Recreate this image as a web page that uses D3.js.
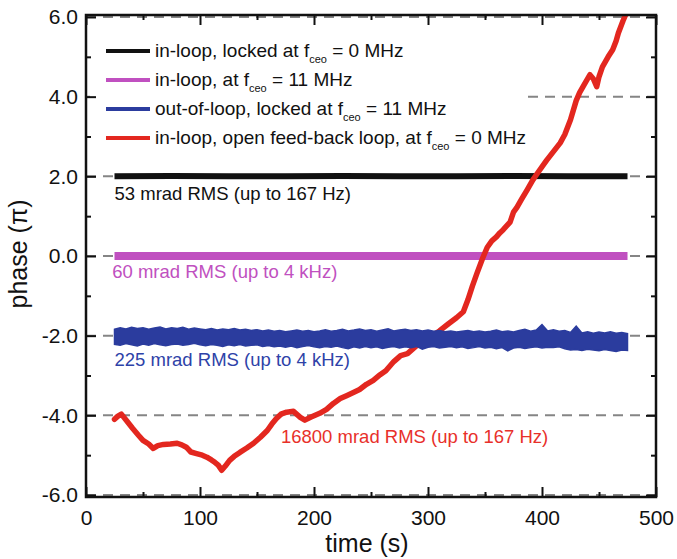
<!DOCTYPE html>
<html>
<head>
<meta charset="utf-8">
<script src="https://cdn.jsdelivr.net/npm/d3@7"></script>
<style>
  html, body { margin: 0; padding: 0; background: #fff; }
  svg { display: block; font-family: "Liberation Sans", Arial, Helvetica, sans-serif; }
</style>
</head>
<body>
<svg id="chart" width="677" height="559"></svg>
<script>
// ---------- data ----------
const xTicksMajor = [0, 100, 200, 300, 400, 500];
const xTicksMinor = [50, 150, 250, 350, 450];
const yTicksMajor = [-6, -4, -2, 0, 2, 4, 6];
const yTicksMinor = [-5, -3, -1, 1, 3, 5];
const gridValues = [-6, -4, -2, 0, 2, 4, 6];

// black: in-loop, locked at fceo = 0 MHz
const blackT = [25, 75, 125, 175, 225, 275, 325, 375, 425, 475];
const blackV = [2.00, 2.01, 2.00, 2.00, 2.01, 2.00, 2.00, 2.01, 2.00, 2.00];

// magenta: in-loop, at fceo = 11 MHz
const magentaT = [25, 125, 225, 325, 425, 475];
const magentaV = [0.00, 0.00, 0.00, 0.00, 0.00, 0.00];

// blue: out-of-loop, locked at fceo = 11 MHz (band envelope)
const blueT = [25,30,35,40,45,50,55,60,65,70,75,80,85,90,95,100,105,110,115,120,125,130,135,140,145,150,155,160,165,170,175,180,185,190,195,200,205,210,215,220,225,230,235,240,245,250,255,260,265,270,275,280,285,290,295,300,305,310,315,320,325,330,335,340,345,350,355,360,365,370,375,380,385,390,395,400,405,410,415,420,425,430,435,440,445,450,455,460,465,470,475];
const blueUpper = [-1.84,-1.80,-1.83,-1.79,-1.82,-1.80,-1.84,-1.81,-1.78,-1.83,-1.80,-1.82,-1.79,-1.84,-1.81,-1.83,-1.85,-1.82,-1.86,-1.83,-1.85,-1.82,-1.86,-1.84,-1.87,-1.85,-1.88,-1.86,-1.89,-1.87,-1.90,-1.88,-1.86,-1.89,-1.87,-1.90,-1.88,-1.85,-1.89,-1.87,-1.84,-1.88,-1.86,-1.83,-1.87,-1.85,-1.89,-1.86,-1.83,-1.88,-1.86,-1.84,-1.87,-1.85,-1.88,-1.86,-1.89,-1.87,-1.90,-1.88,-1.91,-1.89,-1.87,-1.90,-1.88,-1.91,-1.89,-1.86,-1.90,-1.88,-1.91,-1.87,-1.84,-1.89,-1.86,-1.72,-1.88,-1.85,-1.89,-1.87,-1.92,-1.76,-1.93,-1.90,-1.94,-1.91,-1.93,-1.90,-1.94,-1.92,-1.95];
const blueLower = [-2.22,-2.24,-2.20,-2.23,-2.26,-2.21,-2.24,-2.20,-2.23,-2.25,-2.22,-2.21,-2.24,-2.22,-2.19,-2.23,-2.25,-2.22,-2.24,-2.27,-2.23,-2.25,-2.22,-2.26,-2.24,-2.23,-2.27,-2.25,-2.28,-2.26,-2.29,-2.26,-2.30,-2.27,-2.25,-2.28,-2.30,-2.27,-2.29,-2.26,-2.30,-2.33,-2.28,-2.31,-2.27,-2.30,-2.28,-2.32,-2.29,-2.27,-2.31,-2.28,-2.30,-2.27,-2.34,-2.29,-2.27,-2.31,-2.29,-2.27,-2.30,-2.28,-2.32,-2.30,-2.27,-2.31,-2.29,-2.33,-2.30,-2.38,-2.31,-2.29,-2.32,-2.30,-2.28,-2.31,-2.29,-2.30,-2.28,-2.33,-2.36,-2.35,-2.37,-2.34,-2.36,-2.38,-2.35,-2.37,-2.40,-2.36,-2.37];

// red: in-loop, open feed-back loop, at fceo = 0 MHz
const redT = [25,28,31,36,41,46,50,55,59,63,68,74,80,84,88,92,97,102,106,110,113,116,119,122,126,130,135,141,147,153,159,163,167,171,176,182,188,192,197,205,211,217,223,229,235,240,246,252,258,263,270,276,282,290,296,303,310,318,325,331,335,339,343,348,352,356,360,363,366,372,375,378,382,387,392,398,404,410,416,420,425,430,433,436,442,445,448,450,453,458,462,465,467,471,474];
const redV = [-4.10,-4.02,-3.97,-4.15,-4.33,-4.50,-4.63,-4.72,-4.83,-4.76,-4.73,-4.72,-4.70,-4.74,-4.80,-4.92,-4.96,-5.00,-5.05,-5.12,-5.18,-5.25,-5.38,-5.28,-5.13,-5.03,-4.93,-4.82,-4.70,-4.55,-4.38,-4.22,-4.08,-3.97,-3.92,-3.90,-4.05,-4.12,-4.05,-3.95,-3.85,-3.70,-3.58,-3.50,-3.42,-3.35,-3.22,-3.12,-2.98,-2.88,-2.65,-2.50,-2.45,-2.25,-2.16,-2.02,-1.88,-1.70,-1.55,-1.40,-1.10,-0.75,-0.43,-0.05,0.22,0.38,0.48,0.58,0.66,0.85,1.10,1.22,1.42,1.66,1.91,2.16,2.40,2.62,2.84,3.05,3.42,3.90,4.10,4.25,4.55,4.45,4.25,4.50,4.75,5.00,5.18,5.40,5.60,5.90,6.10];

const legendItems = [
  { pre: "in-loop, locked at f", sub: "ceo", post: " = 0 MHz", color: "#111111" },
  { pre: "in-loop, at f", sub: "ceo", post: " = 11 MHz", color: "#c050c0" },
  { pre: "out-of-loop, locked at f", sub: "ceo", post: " = 11 MHz", color: "#2b3c9e" },
  { pre: "in-loop, open feed-back loop, at f", sub: "ceo", post: " = 0 MHz", color: "#e3271f" }
];

const annotations = [
  { text: "53 mrad RMS (up to 167 Hz)", t: 25, v: 2.0, color: "#111111", dy: 24 },
  { text: "60 mrad RMS (up to 4 kHz)", t: 23, v: 0.0, color: "#c050c0", dy: 22 },
  { text: "225 mrad RMS (up to 4 kHz)", t: 25, v: -2.0, color: "#2e42a8", dy: 30 },
  { text: "16800 mrad RMS (up to 167 Hz)", t: 171, v: -4.0, color: "#e8302a", dy: 28 }
];

// ---------- chart ----------
const svg = d3.select("#chart");
const x = d3.scaleLinear().domain([0, 500]).range([86, 656]);
const y = d3.scaleLinear().domain([-6.05, 6.05]).range([497, 15]);
const yFmt = d => d3.format(".1f")(d).replace("\u2212", "-");

// dashed grid lines
svg.append("g").selectAll("line").data(gridValues).join("line")
  .attr("x1", x(0)).attr("x2", x(500))
  .attr("y1", d => y(d)).attr("y2", d => y(d))
  .attr("stroke", "#858585").attr("stroke-width", 2)
  .attr("stroke-dasharray", "10,7");

// legend background + legend
const lg = svg.append("g");
lg.append("rect").attr("x", 90).attr("y", 26).attr("width", 438).attr("height", 126).attr("fill", "#fff");
legendItems.forEach((d, i) => {
  const yy = 51 + i * 29;
  lg.append("line").attr("x1", 106).attr("x2", 150).attr("y1", yy).attr("y2", yy)
    .attr("stroke", d.color).attr("stroke-width", 4);
  const t = lg.append("text").attr("x", 155).attr("y", yy + 6)
    .attr("font-size", 19).attr("fill", "#111");
  t.append("tspan").text(d.pre);
  t.append("tspan").attr("dy", 6).attr("font-size", 11).text(d.sub);
  t.append("tspan").attr("dy", -6).text(d.post);
});

// traces
const line = d3.line().x(d => x(d[0])).y(d => y(d[1]));
svg.append("path").datum(d3.zip(blackT, blackV)).attr("d", line)
  .attr("fill", "none").attr("stroke", "#111").attr("stroke-width", 6);
svg.append("path").datum(d3.zip(magentaT, magentaV)).attr("d", line)
  .attr("fill", "none").attr("stroke", "#c050c0").attr("stroke-width", 8);
svg.append("path").datum(d3.zip(redT, redV)).attr("d", line)
  .attr("fill", "none").attr("stroke", "#e3271f").attr("stroke-width", 5.5)
  .attr("stroke-linejoin", "round").attr("stroke-linecap", "round");
const area = d3.area().x(d => x(d[0])).y0(d => y(d[2])).y1(d => y(d[1]));
svg.append("path").datum(d3.zip(blueT, blueUpper, blueLower)).attr("d", area)
  .attr("fill", "#2b3c9e").attr("stroke", "#2b3c9e").attr("stroke-width", 1.5);

// white strip above frame (red trace leaves the plot at the top)
svg.append("rect").attr("x", 0).attr("y", 0).attr("width", 677).attr("height", 14).attr("fill", "#fff");

// annotations
annotations.forEach(a => {
  svg.append("text").attr("x", x(a.t)).attr("y", y(a.v) + a.dy)
    .attr("font-size", 18.5).attr("fill", a.color).text(a.text);
});

// axes
function styleAxis(g) {
  g.select(".domain").remove();
  g.selectAll(".tick line").attr("stroke", "#111").attr("stroke-width", 2);
  g.selectAll(".tick text").attr("fill", "#111").attr("font-family", "Liberation Sans, Arial, sans-serif");
}
svg.append("g").attr("transform", `translate(0,${y.range()[0]})`)
  .call(d3.axisBottom(x).tickValues(xTicksMajor).tickSize(-10).tickPadding(13).tickFormat(d3.format("d")))
  .call(styleAxis).selectAll("text").attr("font-size", 21);
svg.append("g").attr("transform", `translate(0,${y.range()[0]})`)
  .call(d3.axisBottom(x).tickValues(xTicksMinor).tickSize(-5).tickFormat(""))
  .call(styleAxis);
svg.append("g").attr("transform", `translate(0,${y.range()[1]})`)
  .call(d3.axisTop(x).tickValues(xTicksMajor).tickSize(-10).tickFormat(""))
  .call(styleAxis);
svg.append("g").attr("transform", `translate(0,${y.range()[1]})`)
  .call(d3.axisTop(x).tickValues(xTicksMinor).tickSize(-5).tickFormat(""))
  .call(styleAxis);
svg.append("g").attr("transform", `translate(${x.range()[0]},0)`)
  .call(d3.axisLeft(y).tickValues(yTicksMajor).tickSize(-10).tickPadding(8).tickFormat(yFmt))
  .call(styleAxis).selectAll("text").attr("font-size", 21);
svg.append("g").attr("transform", `translate(${x.range()[0]},0)`)
  .call(d3.axisLeft(y).tickValues(yTicksMinor).tickSize(-5).tickFormat(""))
  .call(styleAxis);
svg.append("g").attr("transform", `translate(${x.range()[1]},0)`)
  .call(d3.axisRight(y).tickValues(yTicksMajor).tickSize(-10).tickFormat(""))
  .call(styleAxis);
svg.append("g").attr("transform", `translate(${x.range()[1]},0)`)
  .call(d3.axisRight(y).tickValues(yTicksMinor).tickSize(-5).tickFormat(""))
  .call(styleAxis);

// frame
svg.append("rect").attr("x", x.range()[0]).attr("y", y.range()[1])
  .attr("width", x.range()[1] - x.range()[0]).attr("height", y.range()[0] - y.range()[1])
  .attr("fill", "none").attr("stroke", "#111").attr("stroke-width", 2.5);

// axis titles
svg.append("text").attr("x", 367).attr("y", 552).attr("text-anchor", "middle")
  .attr("font-size", 25).attr("fill", "#111").text("time (s)");
svg.append("text").attr("transform", "translate(27,254) rotate(-90)").attr("text-anchor", "middle")
  .attr("font-size", 25).attr("fill", "#111").text("phase (π)");
</script>
</body>
</html>
